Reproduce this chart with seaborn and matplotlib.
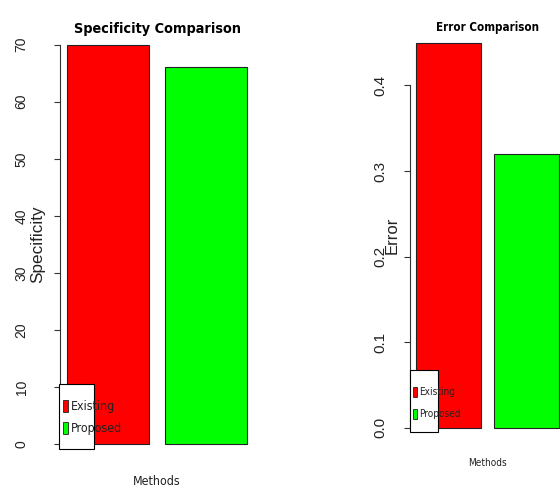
import matplotlib
matplotlib.use("Agg")
import matplotlib.pyplot as plt
import seaborn as sns
from matplotlib import font_manager
from matplotlib.patches import Patch, Rectangle

# data
methods = ["Existing", "Proposed"]
colors = ["#FF0000", "#00FF00"]
specificity = [70, 66]
error = [0.45, 0.32]
spec_ticks = [0, 10, 20, 30, 40, 50, 60, 70]
err_ticks = [0.0, 0.1, 0.2, 0.3, 0.4]

sns.set_style("white")
fonts = font_manager.fontManager.ttflist
names = {f.name for f in fonts}
narrow_kw = {"family": "Liberation Sans"}
scale = 0.82
if "Liberation Sans Narrow" in names:
    narrow_kw = {"family": "Liberation Sans Narrow"}
    scale = 1.0
elif "Arial Narrow" in names:
    narrow_kw = {"family": "Arial Narrow"}
    scale = 1.0
elif any(f.name == "DejaVu Sans" and "ondensed" in f.fname for f in fonts):
    narrow_kw = {"family": "DejaVu Sans", "stretch": "condensed"}
    scale = 0.85
plt.rcParams["font.family"] = ["Liberation Sans", "DejaVu Sans"]

W, H = 560, 488
fig = plt.figure(figsize=(W / 100, H / 100), dpi=100)


def px_axes(x0, x1, ytop, ybot):
    return fig.add_axes([x0 / W, 1 - ybot / H, (x1 - x0) / W, (ybot - ytop) / H])


def r_barplot(ax, values, ticks, ylim, title, ylabel, tsize, lsize, ticksize,
              ylab_x, tickpad, title_y, leg_anchor, leg_size, leg_kw, box):
    sns.barplot(x=methods, y=values, hue=methods, palette=colors, legend=False,
                saturation=1, width=1 / 1.2, edgecolor="#222222", linewidth=0.8, ax=ax)
    ax.set_xlim(-0.49, 1.49)
    ax.set_ylim(*ylim)
    for s in ["top", "right", "bottom"]:
        ax.spines[s].set_visible(False)
    ax.spines["left"].set_bounds(ticks[0], ticks[-1])
    ax.spines["left"].set_color("#333333")
    ax.spines["left"].set_linewidth(0.8)
    ax.set_xticks([])
    ax.set_yticks(ticks)
    ax.set_yticklabels([str(t) for t in ticks], rotation=90, ha="center", va="center",
                       fontsize=ticksize, color="#222222")
    ax.tick_params(axis="y", direction="out", length=4.3, width=0.8, color="#333333",
                   pad=tickpad, left=True)
    ax.set_title(title, fontsize=tsize * scale * 0.92, fontweight="bold", y=title_y, pad=0,
                 va="baseline", color="black", **narrow_kw)
    ax.set_ylabel(ylabel, fontsize=lsize, va="center", color="#222222")
    ax.yaxis.set_label_coords(ylab_x, 0.5)
    ax.set_xlabel("Methods", fontsize=leg_size * scale, va="center", color="#222222",
                  **narrow_kw)
    ax.xaxis.set_label_coords(0.5, -0.049)
    bx0, by0, bx1, by1 = box
    ax.add_patch(Rectangle((bx0 / W, 1 - by1 / H), (bx1 - bx0) / W, (by1 - by0) / H,
                           transform=fig.transFigure, facecolor="white",
                           edgecolor="black", linewidth=0.8, clip_on=False, zorder=4))
    handles = [Patch(facecolor=c, edgecolor="#222222", linewidth=0.6) for c in colors]
    leg = ax.legend(handles, methods, loc="upper left",
                    bbox_to_anchor=(leg_anchor[0] / W, 1 - leg_anchor[1] / H),
                    bbox_transform=fig.transFigure, frameon=False, borderpad=0,
                    borderaxespad=0, prop=dict(size=leg_size * scale, **narrow_kw),
                    **leg_kw)
    for t in leg.get_texts():
        t.set_color("#222222")


ax1 = px_axes(59.5, 254.5, 28.7, 460)
r_barplot(ax1, specificity, spec_ticks, (-2.8, 72.8), "Specificity Comparison", "Specificity",
          13.2, 12.3, 10, (37.5 - 59.5) / 195, 23, 0.990,
          (63.3, 400), 10.5,
          dict(handlelength=0.3 / scale, handleheight=0.9 / scale,
               handletextpad=0.23 / scale, labelspacing=0.62 / scale),
          (59, 384, 94, 449))

ax2 = px_axes(410.3, 564.7, 27.3, 443.1)
r_barplot(ax2, error, err_ticks, (-0.018, 0.468), "Error Comparison", "Error",
          10.6, 12, 11, (392 - 410.3) / 154.4, 17.3, 0.9918,
          (413.3, 387), 8.5,
          dict(handlelength=0.29 / scale, handleheight=0.95 / scale,
               handletextpad=0.22 / scale, labelspacing=1.0 / scale),
          (410.3, 370, 438.3, 432))

fig.savefig("out.png", dpi=100)
